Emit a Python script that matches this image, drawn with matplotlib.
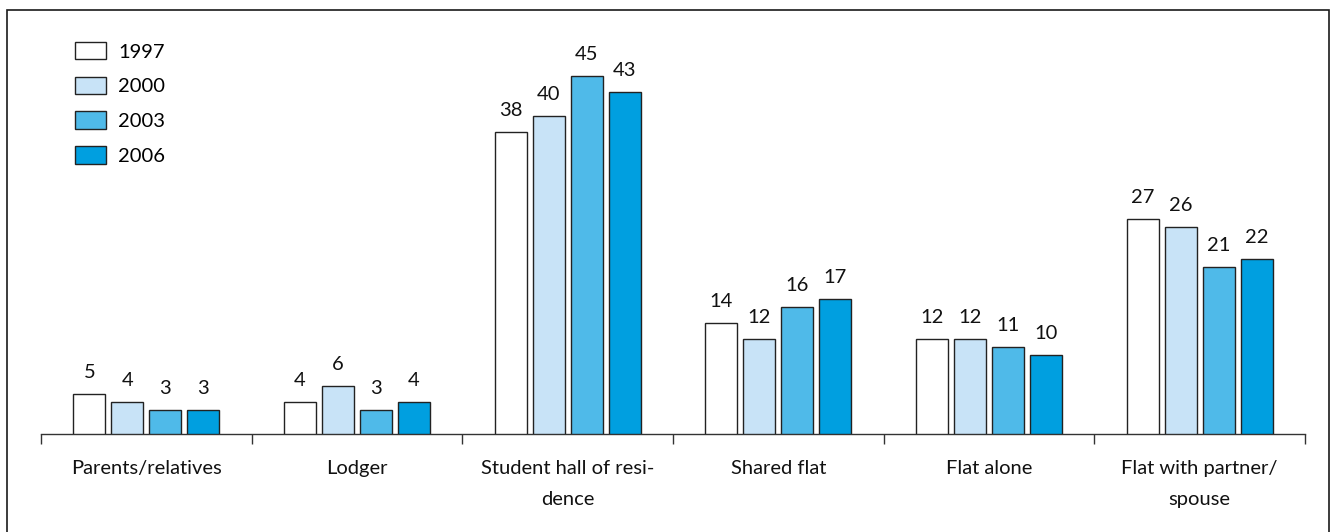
import matplotlib
matplotlib.use("Agg")
import matplotlib.pyplot as plt
from matplotlib.patches import Rectangle
import numpy as np

plt.rcParams['font.family'] = ['Lato', 'DejaVu Sans']

categories = ["Parents/relatives", "Lodger", "Student hall of resi-\ndence",
              "Shared flat", "Flat alone", "Flat with partner/\nspouse"]
years = ["1997", "2000", "2003", "2006"]
values = {
    "1997": [5, 4, 38, 14, 12, 27],
    "2000": [4, 6, 40, 12, 12, 26],
    "2003": [3, 3, 45, 16, 11, 21],
    "2006": [3, 4, 43, 17, 10, 22],
}
colors = ["#FFFFFF", "#C8E3F7", "#4FBAE9", "#009FE0"]

W, H = 1335, 532
fig = plt.figure(figsize=(W / 100, H / 100), dpi=100)
FS = 14.5

# outer frame
fig.patches.append(Rectangle((7 / W, -0.05), (1329 - 7) / W, 1.05 - 10 / H,
                             transform=fig.transFigure, fill=False,
                             edgecolor="#1a1a1a", linewidth=1.2))

ax_left, ax_right = 41, 1305
ax_base, ax_top = 434, 40
ax = fig.add_axes([ax_left / W, (H - ax_base) / H,
                   (ax_right - ax_left) / W, (ax_base - ax_top) / H])

px_per_unit = 7.95
ax.set_ylim(0, (ax_base - ax_top) / px_per_unit)
ax.set_xlim(0, len(categories))

centers = np.arange(len(categories)) + 0.5
step = 0.18
width = 0.152
handles = []
for i, (yr, col) in enumerate(zip(years, colors)):
    xs = centers + (i - 1.5) * step
    bars = ax.bar(xs, values[yr], width=width, color=col,
                  edgecolor="#222222", linewidth=1.0, label=yr, zorder=3)
    handles.append(bars)
    for x, v in zip(xs, values[yr]):
        ax.annotate(str(v), (x, v), xytext=(0, 11.5), textcoords="offset points",
                    ha="center", va="baseline", fontsize=FS, color="#111111")

for s in ["top", "right", "left"]:
    ax.spines[s].set_visible(False)
ax.spines["bottom"].set_color("#333333")
ax.spines["bottom"].set_linewidth(1.0)
ax.set_yticks([])

ax.set_xticks(centers)
ax.set_xticklabels(categories, fontsize=FS, color="#111111", linespacing=2.0)
ax.tick_params(axis="x", which="major", length=0, pad=18.5)
ax.set_xticks(np.arange(len(categories) + 1), minor=True)
ax.tick_params(axis="x", which="minor", length=7, width=1.0, color="#333333", direction="out")

leg = fig.legend(handles=handles, labels=years, loc="upper left",
                 bbox_to_anchor=(75 / W, 1 - 42 / H), frameon=False,
                 fontsize=FS, handlelength=1.55, handleheight=0.95,
                 handletextpad=0.6, labelspacing=0.8, borderpad=0,
                 borderaxespad=0)

fig.savefig("out.png", dpi=100)
